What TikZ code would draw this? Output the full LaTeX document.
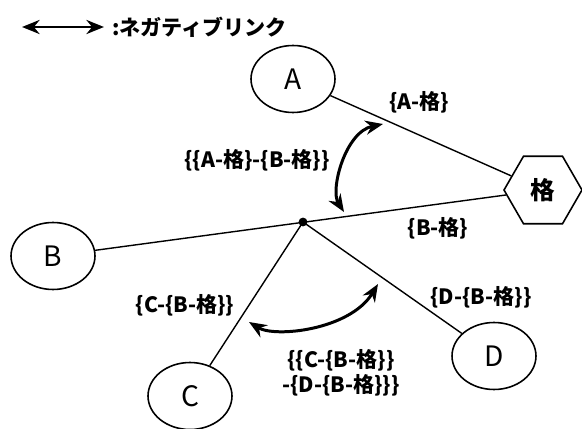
\documentclass[tikz,border=0pt]{standalone}
\usepackage{fontspec}
\setmainfont{Noto Sans CJK JP}
\usepackage{tikz}
\usetikzlibrary{shapes.geometric,arrows.meta}

\begin{document}
\begin{tikzpicture}[x=0.02cm,y=-0.02cm,
  vert/.style={draw,ellipse,line width=0.9pt,minimum width=1.68cm,minimum height=1.34cm,inner sep=0pt,font=\fontsize{16}{18}\selectfont},
  lattice/.style={draw,regular polygon,regular polygon sides=6,line width=0.9pt,minimum size=1.56cm,inner sep=0pt,font=\fontsize{14}{16}\selectfont\bfseries},
  edge/.style={line width=0.8pt},
  neg/.style={line width=1.7pt,{Stealth[length=10pt,width=8pt]}-{Stealth[length=10pt,width=8pt]}},
  lbl/.style={font=\fontsize{12}{14}\selectfont\bfseries,inner sep=1pt}]
\useasboundingbox (0,0) rectangle (582,429);

%% Legend %%

\coordinate (leg1) at (22,27);
\coordinate (leg2) at (104,27);
\draw[neg] (leg1) -- (leg2);
\node[lbl,anchor=west] (legtext) at (110,27) {:ネガティブリンク};


%% Graph %%

\node[vert] (A) at (293,79) {A};
\node[vert] (B) at (53,256) {B};
\node[vert] (C) at (190,396) {C};
\node[vert] (D) at (494,356) {D};
\node[lattice] (kaku) at (543,190) {格};

\node[circle,fill,inner sep=0pt,minimum size=5pt] (j) at (303,222) {};


\draw[edge] (A) -- (kaku);
\draw[edge] (B) -- (kaku);
\draw[edge] (j.center) -- (C);
\draw[edge] (j.center) -- (D);


%% Negative links %%

\coordinate (n1) at (383,124);
\coordinate (n2) at (344,212);
\coordinate (n3) at (249,322);
\coordinate (n4) at (378,284);

\draw[neg] (n1) .. controls (345,132) and (330,190) .. (n2);
\draw[neg] (n3) .. controls (275,338) and (350,330) .. (n4);


%% Labels %%

\node[lbl] (lAk) at (419,102) {\{A-格\}};
\node[lbl] (lAB) at (257,160) {\{\{A-格\}-\{B-格\}\}};
\node[lbl] (lBk) at (438,228) {\{B-格\}};
\node[lbl] (lCB) at (185,305) {\{C-\{B-格\}\}};
\node[lbl] (lDB) at (481,297) {\{D-\{B-格\}\}};
\node[lbl,align=center] (lCD) at (341,373) {\{\{C-\{B-格\}\}\\-\{D-\{B-格\}\}\}};

\end{tikzpicture}
\end{document}
